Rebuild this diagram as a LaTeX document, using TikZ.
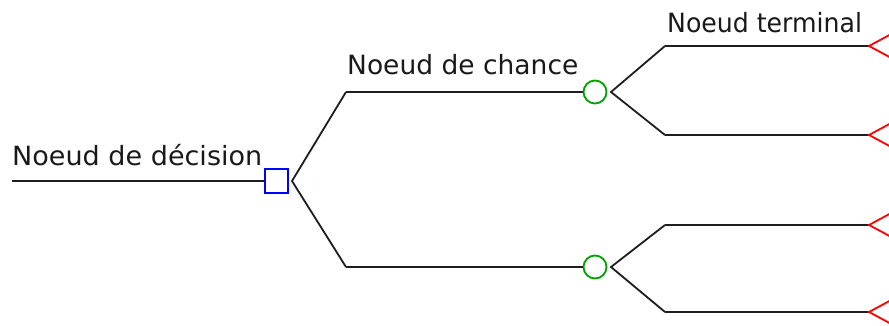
\documentclass[tikz,border=0pt]{standalone}
\usepackage{fontspec}
\usepackage{graphicx}
\setmainfont{DejaVu Sans}
\usetikzlibrary{calc}
\definecolor{decblue}{RGB}{0,0,255}
\definecolor{chgreen}{RGB}{0,160,0}
\definecolor{termred}{RGB}{255,0,0}
\definecolor{linegray}{RGB}{30,30,30}
\tikzset{
  branch/.style={draw=linegray, line width=1.8pt, line join=miter},
  decbox/.style={draw=decblue, line width=2pt, rectangle, minimum size=23pt, inner sep=0pt, fill=white},
  chancenode/.style={draw=chgreen, line width=1.8pt, circle, minimum size=23pt, inner sep=0pt, fill=white},
  termshape/.style={draw=termred, line width=1.8pt},
  lbl/.style={inner sep=0pt, anchor=base west, text=black!90, font=\fontsize{26.5}{30}\selectfont}
}
\begin{document}
\begin{tikzpicture}[x=1pt,y=-1pt]
\useasboundingbox (0,0) rectangle (889,326);
\clip (0,0) rectangle (889,326);
\fill[white] (0,0) rectangle (889,326);
% coordinates
\coordinate (start) at (12,181);
\coordinate (f0) at (292,181);
\coordinate (a1) at (346,92);
\coordinate (a2) at (346,267);
\coordinate (g1) at (611,92);
\coordinate (g2) at (611,267);
\coordinate (b1) at (665,46);
\coordinate (b2) at (665,135);
\coordinate (b3) at (665,225);
\coordinate (b4) at (665,312);
\coordinate (t1) at (869,46);
\coordinate (t2) at (869,135);
\coordinate (t3) at (869,225);
\coordinate (t4) at (869,312);
% nodes
\node[decbox] (dec) at (276,181) {};
\node[chancenode] (c1) at (595,92) {};
\node[chancenode] (c2) at (595,267) {};
% connectors
\draw[branch] (start) -- (dec.west);
\draw[branch] (a1) -- (f0) -- (a2);
\draw[branch] (a1) -- (c1.west);
\draw[branch] (a2) -- (c2.west);
\draw[branch] (b1) -- (g1) -- (b2);
\draw[branch] (b3) -- (g2) -- (b4);
\draw[branch] (b1) -- (t1);
\draw[branch] (b2) -- (t2);
\draw[branch] (b3) -- (t3);
\draw[branch] (b4) -- (t4);
% terminal nodes
\foreach \t in {t1,t2,t3,t4}{
  \draw[termshape] ($(\t)+(26,-14)$) -- (\t) -- ($(\t)+(26,14)$) -- cycle;
}
% labels
\node[lbl] (ldec) at (12,166) {\scalebox{1.02}[1]{Noeud de décision}};
\node[lbl] (lch) at (347,75) {\scalebox{1.0}[1]{Noeud de chance}};
\node[lbl] (lterm) at (667,33) {\scalebox{0.95}[1]{Noeud terminal}};
\end{tikzpicture}
\end{document}
